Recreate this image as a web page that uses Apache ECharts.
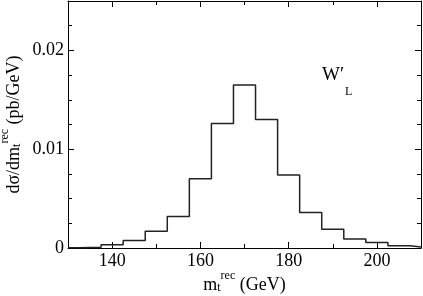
<!DOCTYPE html>
<html><head><meta charset="utf-8">
<script src="https://cdn.jsdelivr.net/npm/echarts@6/dist/echarts.min.js"></script>
<style>html,body{margin:0;padding:0;background:#fff}#c{width:423px;height:296px}</style>
</head><body><div id="c"></div>
<script>
const binEdges = [130,132.5,137.5,142.5,147.5,152.5,157.5,162.5,167.5,172.5,177.5,182.5,187.5,192.5,197.5,202.5,207.5,210];
const binValues = [0.00003,0.00008,0.00033,0.00075,0.0017,0.0032,0.0070,0.0126,0.0165,0.0130,0.0074,0.0036,0.0019,0.0009,0.00055,0.00022,0.0001];
const xMajorTicks = [140,160,180,200];
const xMinorTicks = [150,170,190];
const yMajorTicks = [0,0.01,0.02];
const yMinorTicks = [0.0025,0.005,0.0075,0.0125,0.015,0.0175,0.0225];

const FONT = '"Liberation Serif", "DejaVu Serif", serif';
const stepData = binValues.map((v,i)=>[binEdges[i], v]);
stepData.push([binEdges[binEdges.length-1], binValues[binValues.length-1]]);

function xAx(pos, ticks, len, lineShow, labels){
  return {type:'value', position:pos, min:130, max:210, gridIndex:0,
    axisLine:{show:lineShow, onZero:false, lineStyle:{color:'#000', width:1}},
    axisTick:{show:true, inside:true, length:len, customValues:ticks, lineStyle:{color:'#000', width:1}},
    axisLabel:{show:!!labels, customValues:xMajorTicks, margin:4, color:'#000', fontFamily:FONT, fontSize:18},
    splitLine:{show:false}};
}
function yAx(pos, ticks, len, lineShow, labels){
  return {type:'value', position:pos, min:0, max:0.025, gridIndex:0,
    axisLine:{show:lineShow, onZero:false, lineStyle:{color:'#000', width:1}},
    axisTick:{show:true, inside:true, length:len, customValues:ticks, lineStyle:{color:'#000', width:1}},
    axisLabel:{show:!!labels, customValues:yMajorTicks, margin:4, color:'#000', fontFamily:FONT, fontSize:18,
      formatter:v=> v===0 ? '0' : v.toFixed(2)},
    splitLine:{show:false}};
}
const richStyle = {
  m:{fontFamily:FONT, fontSize:18, color:'#000', verticalAlign:'bottom', lineHeight:24},
  sub:{fontFamily:FONT, fontSize:12, color:'#000', verticalAlign:'bottom', lineHeight:19},
  sup:{fontFamily:FONT, fontSize:12, color:'#000', verticalAlign:'top', lineHeight:22}};
const xs = [xAx('bottom', xMajorTicks, 6, true, true), xAx('bottom', xMinorTicks, 4, false, false),
            xAx('top', xMajorTicks, 6, true, false), xAx('top', xMinorTicks, 4, false, false)];
xs[0].name = '{m|m}{sub|t}{sup|rec}{m| (GeV)}';
xs[0].nameLocation = 'middle';
xs[0].nameGap = 22;
xs[0].nameMoveOverlap = false;
xs[0].nameTextStyle = {color:'#000', fontFamily:FONT, fontSize:18, rich:richStyle};
const ys = [yAx('left', yMajorTicks, 6, true, true), yAx('left', yMinorTicks, 4, false, false),
            yAx('right', yMajorTicks, 6, true, false), yAx('right', yMinorTicks, 4, false, false)];
ys[0].name = '{m|dσ/dm}{sub|t}{sup|rec}{m| (pb/GeV)}';
ys[0].nameLocation = 'middle';
ys[0].nameGap = 45;
ys[0].nameMoveOverlap = false;
ys[0].nameRotate = 90;
ys[0].nameTextStyle = {color:'#000', fontFamily:FONT, fontSize:18, rich:richStyle};

const chart = echarts.init(document.getElementById('c'), null, {renderer:'canvas'});
chart.setOption({
  animation:false,
  backgroundColor:'#fff',
  grid:{left:68, right:2, top:1, bottom:48, containLabel:false, outerBoundsMode:'none'},
  xAxis: xs,
  yAxis: ys,
  graphic:[
    {type:'text', left:322, top:66, style:{text:'W′', font:'19px "Liberation Serif"', fill:'#000'}},
    {type:'text', left:345, top:86, style:{text:'L', font:'12px "Liberation Serif"', fill:'#000'}}
  ],
  series:[{type:'line', xAxisIndex:0, yAxisIndex:0, step:'end', data:stepData, showSymbol:false,
    lineStyle:{color:'#222', width:1.5}}]
});
</script></body></html>
